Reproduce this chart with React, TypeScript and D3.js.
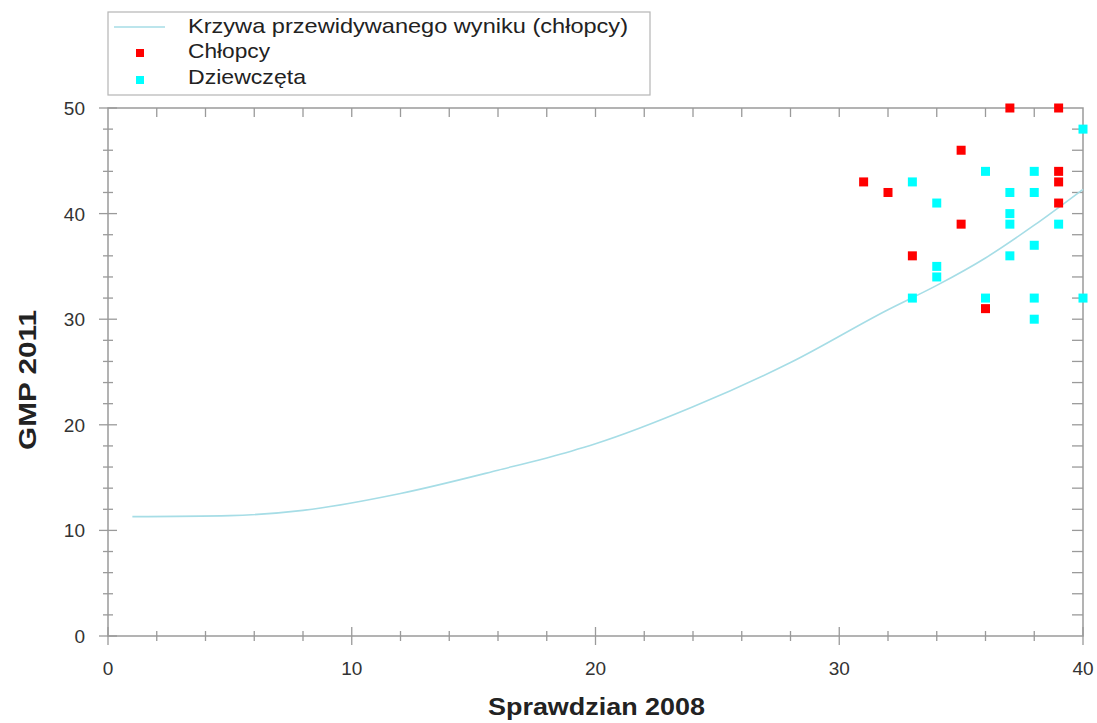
import React, { useRef, useEffect } from 'react';
import * as d3 from 'd3';

// predicted-score curve (boys)
const curveX = [1, 5, 8, 12, 16, 19, 20, 24, 28, 32, 34, 36, 38, 40];
const curveY = [11.3, 11.4, 11.9, 13.5, 15.7, 17.5, 18.2, 21.7, 25.9, 30.9, 33.2, 35.8, 38.9, 42.3];

// boys (Chłopcy)
const boysX = [37, 39, 35, 31, 32, 39, 39, 39, 35, 33, 36];
const boysY = [50, 50, 46, 43, 42, 44, 43, 41, 39, 36, 31];

// girls (Dziewczęta)
const girlsX = [40, 36, 38, 33, 34, 37, 38, 37, 37, 39, 38, 37, 34, 34, 33, 36, 38, 40, 38];
const girlsY = [48, 44, 44, 43, 41, 42, 42, 40, 39, 39, 37, 36, 35, 34, 32, 32, 32, 32, 30];

const xTicks = [0, 10, 20, 30, 40];
const yTicks = [0, 10, 20, 30, 40, 50];
const legendLabels = ['Krzywa przewidywanego wyniku (chłopcy)', 'Chłopcy', 'Dziewczęta'];
const legendWidths = [440, 82, 118];

const FONT = '"Liberation Sans", Arial, sans-serif';

export default function App() {
  const ref = useRef<SVGSVGElement>(null);

  useEffect(() => {
    if (!ref.current) return;
    draw(ref.current);
  }, []);

  return (
    <>
      <style>{`body{margin:0}`}</style>
      <svg ref={ref} width={1097} height={723} style={{ display: 'block', background: '#fff' }} />
    </>
  );
}

function draw(el: SVGSVGElement) {
  const svg = d3.select(el);
  svg.selectAll('*').remove();

  const left = 108, right = 1083, top = 108, bottom = 636;
  const x = d3.scaleLinear().domain([0, 40]).range([left, right]);
  const y = d3.scaleLinear().domain([0, 50]).range([bottom, top]);
  const axisColor = '#9a9a9a';

  // frame
  svg.append('rect')
    .attr('x', left).attr('y', top)
    .attr('width', right - left).attr('height', bottom - top)
    .attr('fill', 'none').attr('stroke', axisColor).attr('stroke-width', 1.5);

  const minorX = d3.range(0, 41, 2);
  const minorY = d3.range(0, 51, 2);

  // bottom ticks (crossing)
  svg.append('g').selectAll('line')
    .data(minorX)
    .enter().append('line')
    .attr('x1', (d) => x(d)).attr('x2', (d) => x(d))
    .attr('y1', (d) => bottom - (d % 10 === 0 ? 9 : 5))
    .attr('y2', (d) => bottom + (d % 10 === 0 ? 9 : 5))
    .attr('stroke', axisColor).attr('stroke-width', 1.3);

  // top ticks (inward)
  svg.append('g').selectAll('line')
    .data(minorX.filter((d) => d > 0 && d < 40))
    .enter().append('line')
    .attr('x1', (d) => x(d)).attr('x2', (d) => x(d))
    .attr('y1', top).attr('y2', top + 9)
    .attr('stroke', axisColor).attr('stroke-width', 1.3);

  // left ticks (crossing)
  svg.append('g').selectAll('line')
    .data(minorY)
    .enter().append('line')
    .attr('y1', (d) => y(d)).attr('y2', (d) => y(d))
    .attr('x1', (d) => left - (d % 10 === 0 ? 9 : 5))
    .attr('x2', (d) => left + (d % 10 === 0 ? 9 : 5))
    .attr('stroke', axisColor).attr('stroke-width', 1.3);

  // right ticks (inward)
  svg.append('g').selectAll('line')
    .data(minorY.filter((d) => d > 0 && d < 50))
    .enter().append('line')
    .attr('y1', (d) => y(d)).attr('y2', (d) => y(d))
    .attr('x1', right - 11).attr('x2', right)
    .attr('stroke', axisColor).attr('stroke-width', 1.3);

  // tick labels
  svg.append('g').selectAll('text')
    .data(xTicks)
    .enter().append('text')
    .attr('x', (d) => x(d)).attr('y', bottom + 39)
    .attr('text-anchor', 'middle')
    .attr('font-family', FONT).attr('font-size', 19).attr('fill', '#333')
    .text((d) => d);

  svg.append('g').selectAll('text')
    .data(yTicks)
    .enter().append('text')
    .attr('x', left - 23).attr('y', (d) => y(d) + 7)
    .attr('text-anchor', 'end')
    .attr('font-family', FONT).attr('font-size', 19).attr('fill', '#333')
    .text((d) => d);

  // axis titles
  svg.append('text')
    .attr('x', 488).attr('y', 715)
    .attr('font-family', FONT).attr('font-size', 24).attr('font-weight', 'bold').attr('fill', '#222')
    .attr('textLength', 217).attr('lengthAdjust', 'spacingAndGlyphs')
    .text('Sprawdzian 2008');

  svg.append('text')
    .attr('transform', `translate(36,450) rotate(-90)`)
    .attr('font-family', FONT).attr('font-size', 23).attr('font-weight', 'bold').attr('fill', '#222')
    .attr('textLength', 140).attr('lengthAdjust', 'spacingAndGlyphs')
    .text('GMP 2011');

  // curve
  const line = d3.line<number>()
    .x((_, i) => x(curveX[i]))
    .y((d) => y(d))
    .curve(d3.curveMonotoneX);
  svg.append('path')
    .attr('d', line(curveY))
    .attr('fill', 'none')
    .attr('stroke', '#a6dde6')
    .attr('stroke-width', 1.6);

  const size = 9;
  // boys
  svg.append('g').selectAll('rect')
    .data(boysX)
    .enter().append('rect')
    .attr('x', (d) => x(d) - size / 2)
    .attr('y', (_, i) => y(boysY[i]) - size / 2)
    .attr('width', size).attr('height', size)
    .attr('fill', '#ff0000');

  // girls
  svg.append('g').selectAll('rect')
    .data(girlsX)
    .enter().append('rect')
    .attr('x', (d) => x(d) - size / 2)
    .attr('y', (_, i) => y(girlsY[i]) - size / 2)
    .attr('width', size).attr('height', size)
    .attr('fill', '#00ffff');

  // legend
  const lg = svg.append('g');
  lg.append('rect')
    .attr('x', 108).attr('y', 12).attr('width', 542).attr('height', 83)
    .attr('fill', '#fff').attr('stroke', '#b5b5b5').attr('stroke-width', 1.2);
  lg.append('line')
    .attr('x1', 114).attr('x2', 165).attr('y1', 27).attr('y2', 27)
    .attr('stroke', '#a6dde6').attr('stroke-width', 1.6);
  lg.append('rect').attr('x', 136).attr('y', 49).attr('width', 8).attr('height', 8).attr('fill', '#ff0000');
  lg.append('rect').attr('x', 136).attr('y', 76).attr('width', 8).attr('height', 8).attr('fill', '#00ffff');
  lg.selectAll('text.lbl')
    .data(legendLabels)
    .enter().append('text')
    .attr('class', 'lbl')
    .attr('x', 188).attr('y', (_, i) => [33, 58, 84][i])
    .attr('font-family', FONT).attr('font-size', 21).attr('fill', '#222')
    .attr('textLength', (_, i) => legendWidths[i]).attr('lengthAdjust', 'spacingAndGlyphs')
    .text((d) => d);
}
